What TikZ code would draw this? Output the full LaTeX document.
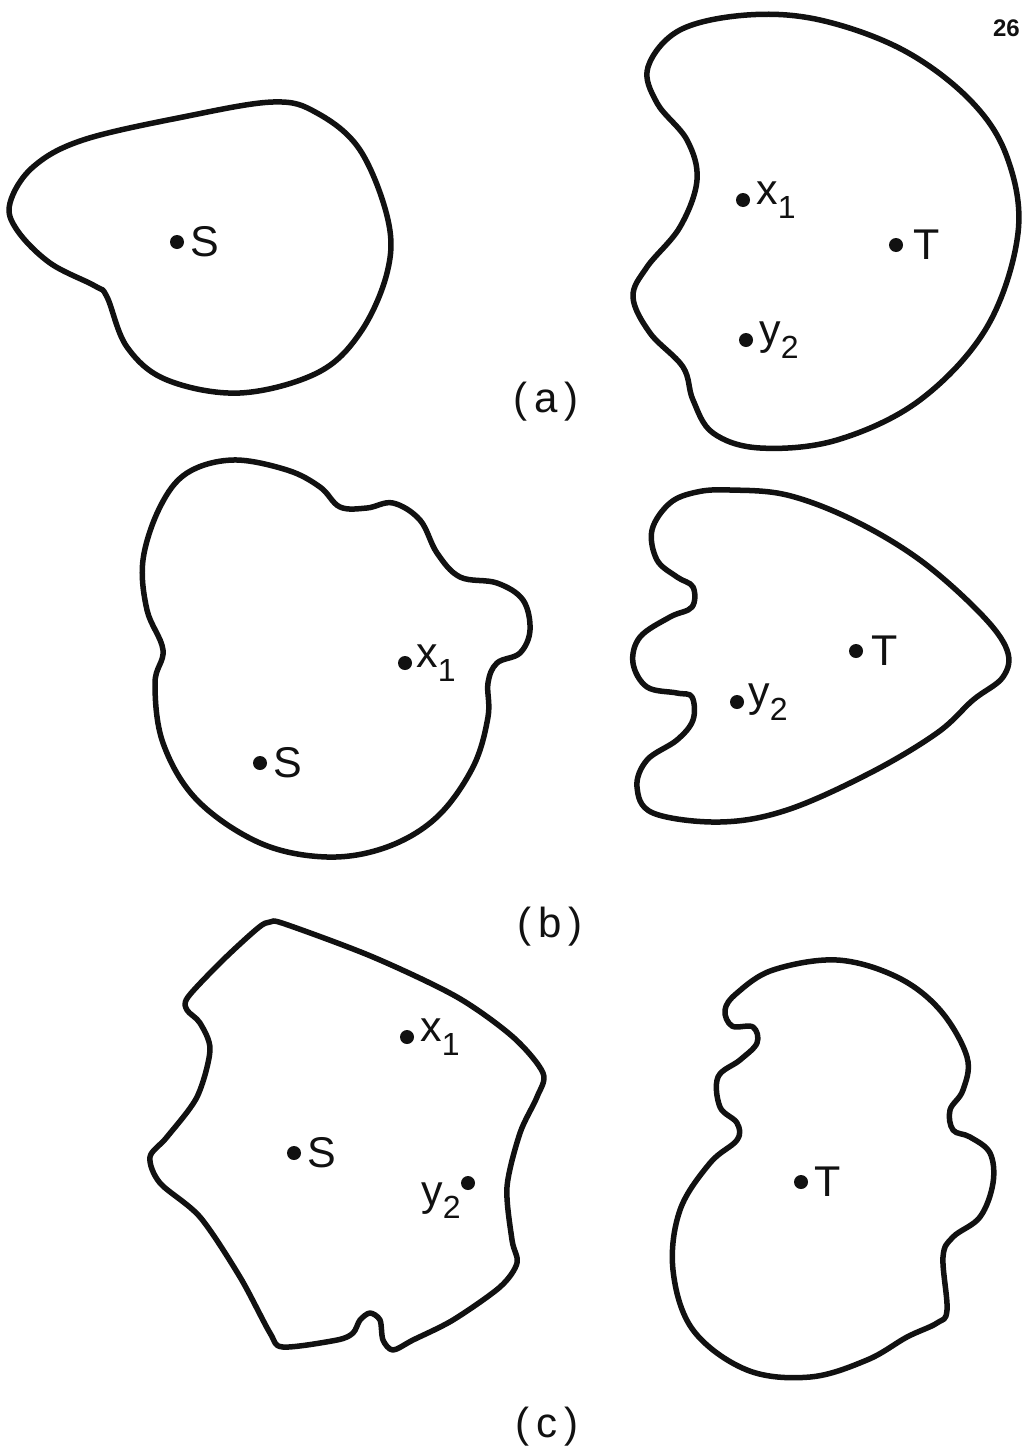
\documentclass[tikz,border=0pt]{standalone}
\usepackage{fontspec}
\setmainfont{Liberation Sans}
\usepackage{tikz}
\usetikzlibrary{positioning}
\definecolor{ink}{HTML}{111111}
\newcommand{\lowsub}[1]{\raisebox{-0.32em}{\fontsize{32}{32}\selectfont #1}}
\tikzset{
  region/.style={draw=ink, line width=5.5pt, line join=round},
  dot/.style={circle, fill=ink, inner sep=0pt, minimum size=14pt},
  lbl/.style={text=ink, font=\fontsize{43}{43}\selectfont, inner sep=2pt},
  caption/.style={text=ink, font=\fontsize{42}{42}\selectfont},
}

\begin{document}
\begin{tikzpicture}[x=1pt, y=-1pt]
  \useasboundingbox (0,0) rectangle (1023,1448);
  \fill[white] (0,0) rectangle (1023,1448);

  % page number
  \node[text=ink, font=\fontsize{24}{24}\selectfont\bfseries, anchor=east, inner sep=1pt] (page) at (1021,28) {26};

  % ---- (a) ----
  \draw[region] plot[smooth cycle, tension=0.6] coordinates {
    (10,203) (33,167) (83,140) (183,117) (273,102) (317,113) (360,150)
    (388,220) (387,273) (360,333) (317,373) (240,393) (167,380)
    (127,347) (107,297) (95,286) (50,263) (17,230)};
  \node[dot] (sA) at (177,242) {};
  \node[lbl, right=4pt of sA] (sAl) {S};

  \draw[region] plot[smooth cycle, tension=0.6] coordinates {
    (747,15) (680,30) (648,67) (657,103) (687,140) (697,180) (680,227)
    (647,267) (633,297) (650,333) (683,367) (693,400) (713,433)
    (760,448) (837,440) (920,400) (987,327) (1018,233) (1007,157)
    (970,100) (903,50) (820,20)};
  \node[dot] (xA) at (743,200) {};
  \node[lbl, right=4pt of xA] (xAl) {x\lowsub{1}};
  \node[dot] (tA) at (896,245) {};
  \node[lbl, right=8pt of tA] (tAl) {T};
  \node[dot] (yA) at (746,340) {};
  \node[lbl, right=4pt of yA] (yAl) {y\lowsub{2}};
  \node[caption] (capA) at (546,402) {(\,a\,)};

  % ---- (b) ----
  \draw[region] plot[smooth cycle, tension=0.6] coordinates {
    (233,460) (287,470) (320,487) (340,507) (367,508) (393,503)
    (420,520) (437,553) (460,577) (497,583) (523,600) (530,630)
    (520,653) (497,663) (488,683) (488,717) (473,767) (437,817)
    (387,847) (327,857) (260,843) (197,800) (163,743) (155,683)
    (163,650) (147,610) (143,560) (160,507) (187,473)};
  \node[dot] (xB) at (405,663) {};
  \node[lbl, right=2pt of xB] (xBl) {x\lowsub{1}};
  \node[dot] (sB) at (260,763) {};
  \node[lbl, right=4pt of sB] (sBl) {S};

  \draw[region] plot[smooth cycle, tension=0.6] coordinates {
    (730,490) (787,495) (853,520) (920,560) (980,613) (1007,650)
    (1003,677) (973,700) (937,733) (870,773) (787,810) (720,822)
    (653,813) (637,787) (647,760) (677,740) (693,720) (692,697)
    (677,693) (647,687) (633,663) (640,637) (670,617) (692,607)
    (693,587) (677,577) (657,560) (652,530) (670,503) (697,492)};
  \node[dot] (tB) at (856,651) {};
  \node[lbl, right=6pt of tB] (tBl) {T};
  \node[dot] (yB) at (737,702) {};
  \node[lbl, right=2pt of yB] (yBl) {y\lowsub{2}};
  \node[caption] (capB) at (550,927) {(\,b\,)};

  % ---- (c) ----
  \draw[region] plot[smooth cycle, tension=0.5] coordinates {
    (270,922) (285,924) (373,957) (457,997) (513,1037) (543,1073) (537,1097)
    (520,1133) (507,1187) (512,1240) (517,1263) (500,1287) (453,1320)
    (413,1340) (393,1350) (383,1340) (380,1320) (370,1313) (360,1320)
    (353,1333) (337,1340) (283,1347) (270,1333) (240,1277) (200,1217)
    (160,1183) (150,1157) (167,1137) (197,1097) (210,1050) (200,1023)
    (187,1010) (188,997) (223,960) (258,928)};
  \node[dot] (xC) at (407,1037) {};
  \node[lbl, right=4pt of xC] (xCl) {x\lowsub{1}};
  \node[dot] (sC) at (294,1153) {};
  \node[lbl, right=4pt of sC] (sCl) {S};
  \node[dot] (yC) at (468,1183) {};
  \node[lbl, below left=-8pt and 0pt of yC] (yCl) {y\lowsub{2}};

  \draw[region] plot[smooth cycle, tension=0.6] coordinates {
    (837,960) (897,977) (940,1010) (967,1057) (963,1090) (950,1110)
    (953,1130) (970,1137) (990,1153) (993,1183) (980,1217) (953,1237)
    (943,1257) (947,1310) (937,1323) (907,1337) (867,1360) (810,1377)
    (747,1370) (693,1330) (673,1270) (680,1210) (710,1163) (737,1140)
    (737,1123) (720,1107) (718,1077) (740,1060) (757,1043) (753,1027)
    (732,1026) (725,1010) (737,993) (773,970)};
  \node[dot] (tC) at (801,1182) {};
  \node[lbl, right=4pt of tC] (tCl) {T};
  \node[caption] (capC) at (547,1427) {(\,c\,)};

\end{tikzpicture}
\end{document}
